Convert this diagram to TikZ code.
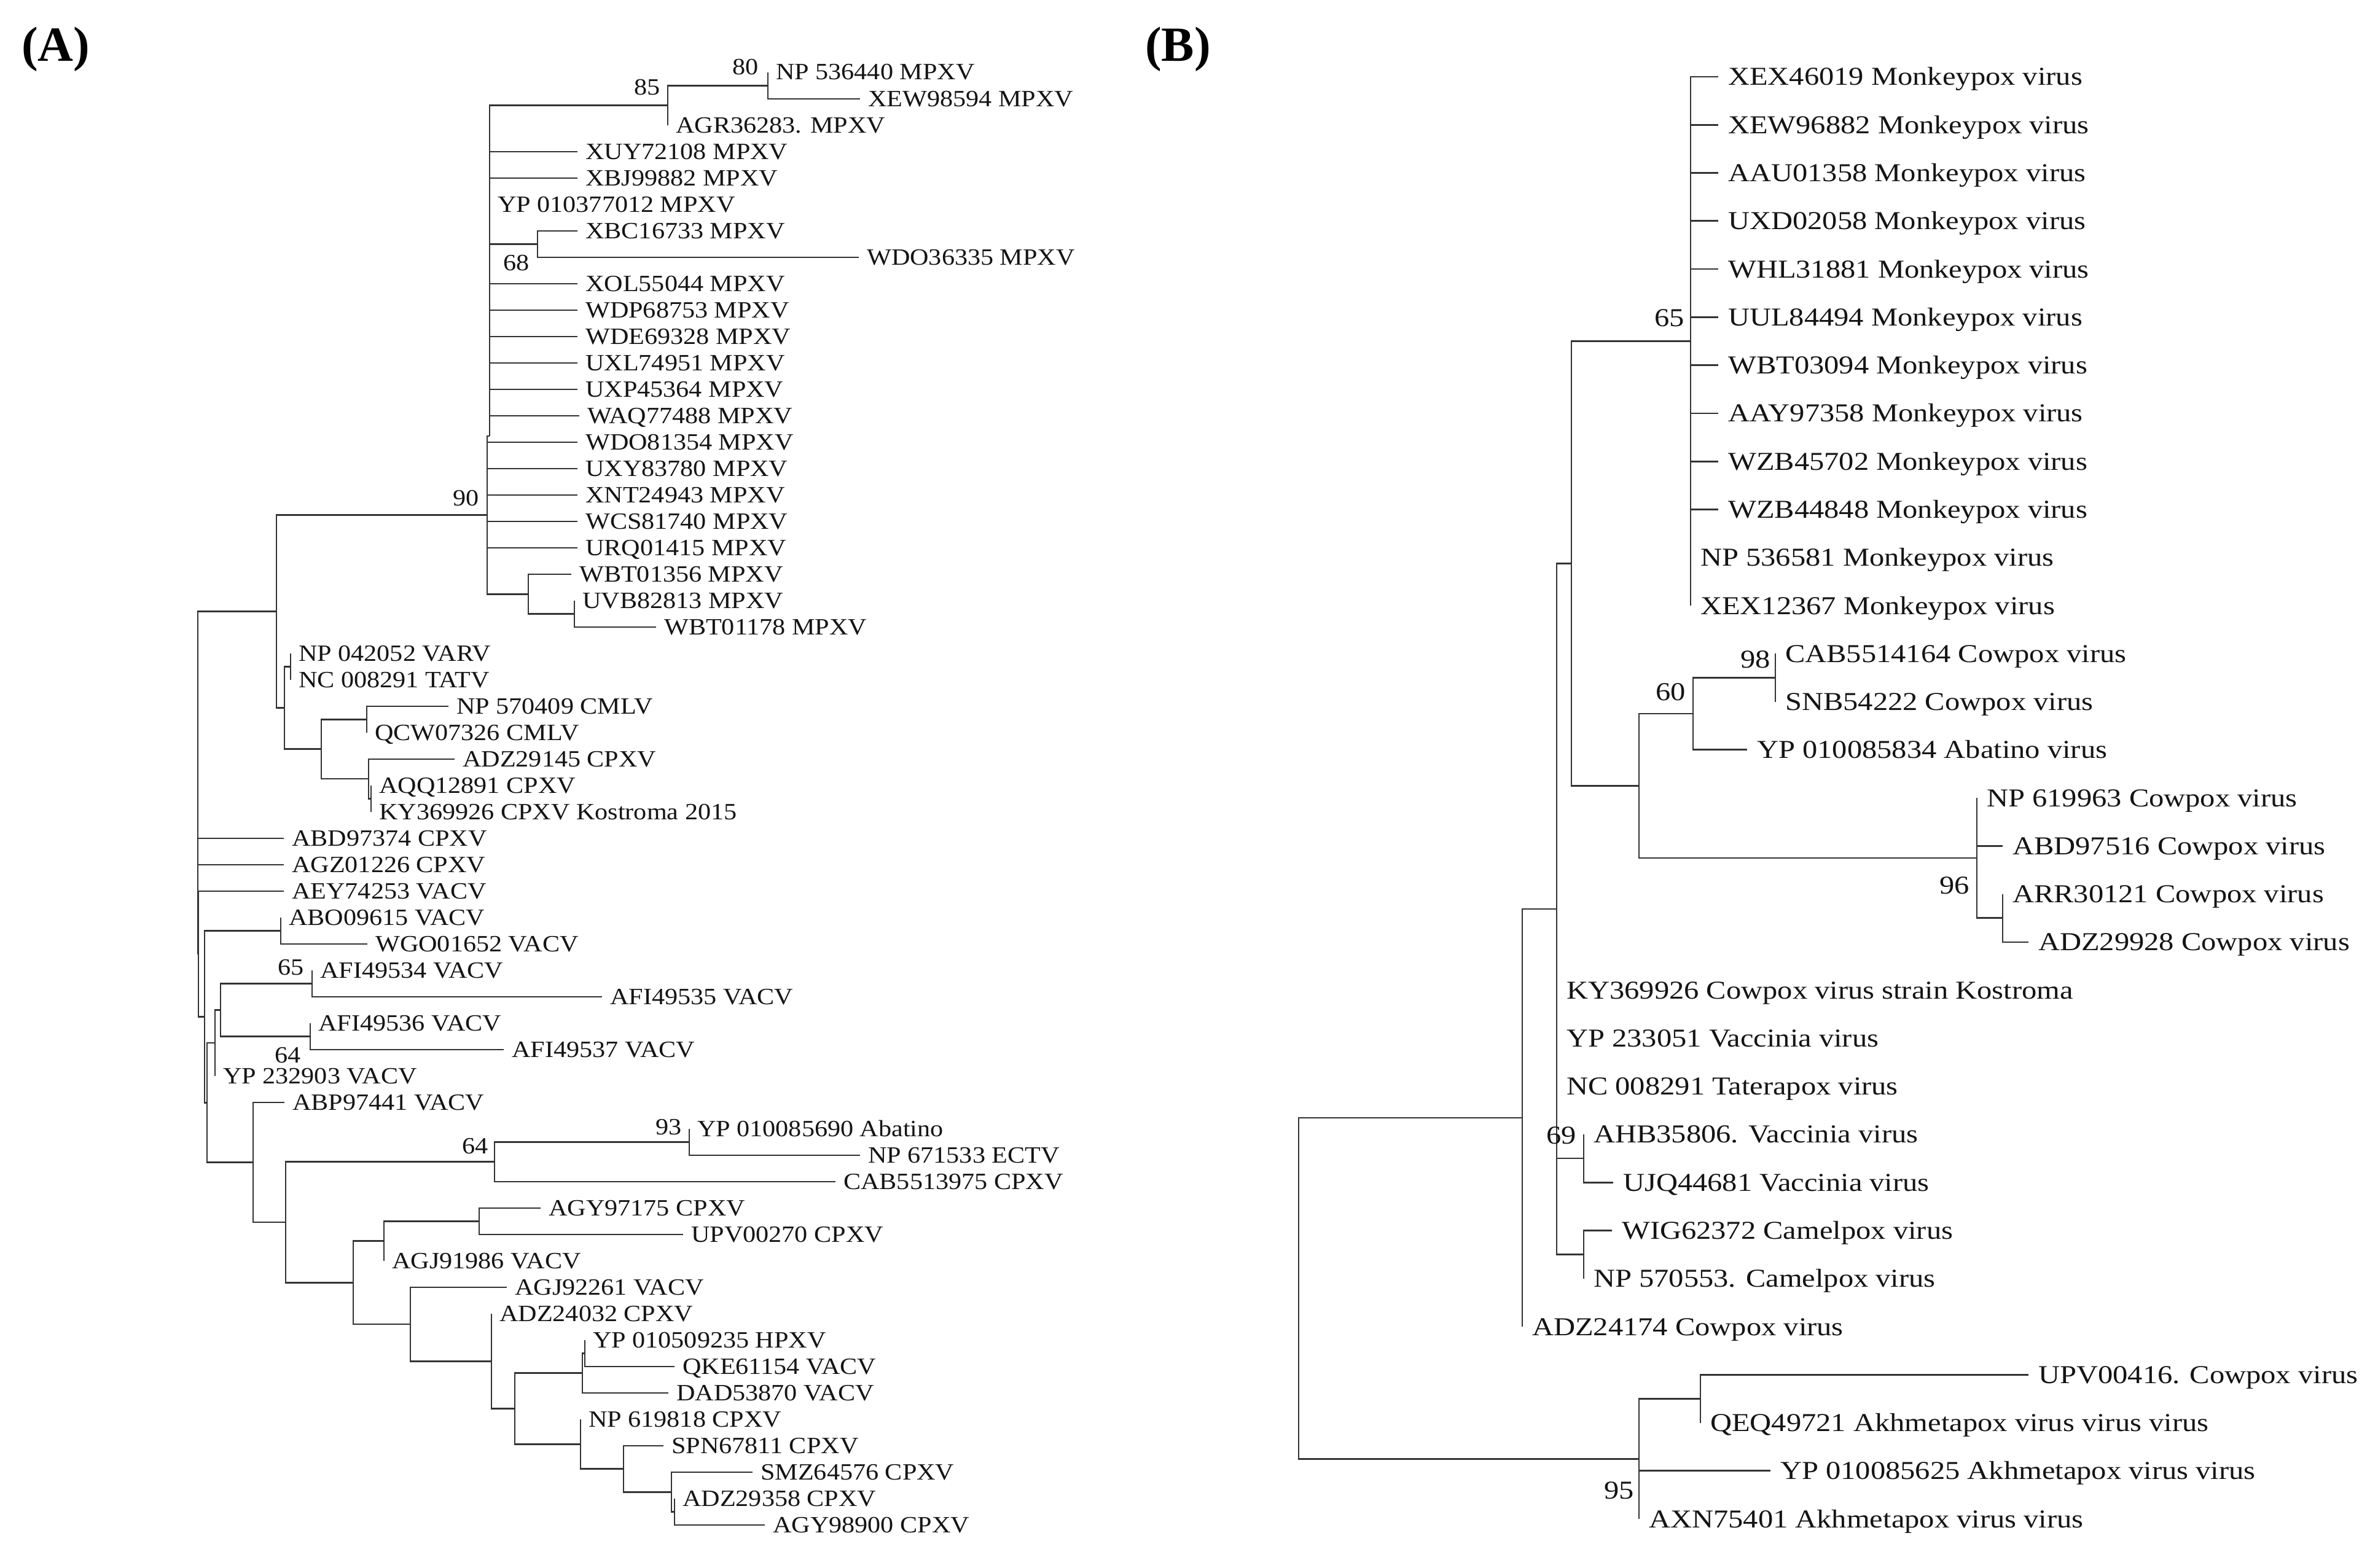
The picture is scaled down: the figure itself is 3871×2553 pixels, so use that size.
\documentclass[tikz,border=0pt]{standalone}
\usepackage{fontspec}
\setmainfont{Liberation Serif}
\newfontfamily\fa[FakeStretch=1.11]{Liberation Serif}
\newfontfamily\fb[FakeStretch=1.155]{Liberation Serif}
\begin{document}
\begin{tikzpicture}[x=1pt,y=-1pt,
  br/.style={draw=black!80,line width=2.7pt,line join=miter},
  labA/.style={anchor=base west,inner sep=0pt,text=black!92,font=\fa\fontsize{38}{40}\selectfont},
  labB/.style={anchor=base west,inner sep=0pt,text=black!92,font=\fb\fontsize{42}{44}\selectfont},
  bsA/.style={anchor=base east,inner sep=0pt,text=black!92,font=\fa\fontsize{38}{40}\selectfont},
  bsB/.style={anchor=base east,inner sep=0pt,text=black!92,font=\fb\fontsize{42}{44}\selectfont},
  panel/.style={anchor=base west,inner sep=0pt,font=\bfseries\fontsize{80}{84}\selectfont}]
\fill[white] (0,0) rectangle (3871,2553);
\useasboundingbox (0,0) rectangle (3871,2553);

\node[panel] (pA) at (35,100) {(A)};
\node[panel] (pB) at (1864,100) {(B)};

% ---------------- Panel A : internal nodes
\coordinate (n80) at (1250,139.5);
\coordinate (n85) at (1087,171.75);
\coordinate (n68) at (875,397.5);
\coordinate (nMPa) at (797,710);
\coordinate (nWBT) at (860,967.25);
\coordinate (nUV) at (935,999.5);
\coordinate (n90) at (793,838.5);
\coordinate (nP) at (450,995.5);
\coordinate (nVT) at (473,1085.5);
\coordinate (nCM) at (597,1171.5);
\coordinate (nAK) at (604,1300.5);
\coordinate (nCP) at (600,1268);
\coordinate (nR) at (523,1219.75);
\coordinate (nQ) at (463,1152.6);
\coordinate (rootA) at (322,1275);
\coordinate (nX) at (323,1553);
\coordinate (n333) at (333,1655.4);
\coordinate (nAW) at (457,1515.5);
\coordinate (n337) at (337,1795.3);
\coordinate (n350) at (350,1698);
\coordinate (n359) at (359,1644.5);
\coordinate (n65) at (508,1601.5);
\coordinate (n64a) at (505,1687.5);
\coordinate (n412) at (412,1892.5);
\coordinate (n465) at (465,1990);
\coordinate (n64b) at (805,1891.75);
\coordinate (n93) at (1122,1859.5);
\coordinate (n575) at (575,2088.4);
\coordinate (n625) at (625,2020.75);
\coordinate (n780) at (780,1988.5);
\coordinate (n668) at (668,2156.1);
\coordinate (n800) at (800,2216.3);
\coordinate (n838) at (838,2293.5);
\coordinate (n948) at (948,2235.75);
\coordinate (n952) at (952,2203.5);
\coordinate (n945) at (945,2351.3);
\coordinate (n1015) at (1015,2391.6);
\coordinate (n1093) at (1093,2429.25);
\coordinate (n1098) at (1098,2461.5);

% ---------------- Panel A : leaves
\foreach \n/\x/\y/\t in {
 a0/1250/118/NP 536440 MPXV, a1/1400/161/XEW98594 MPXV, a2/1087/204/AGR36283. MPXV,
 a3/940/247/XUY72108 MPXV, a4/940/290/XBJ99882 MPXV, a5/797/333/YP 010377012 MPXV,
 a6/940/376/XBC16733 MPXV, a7/1398/419/WDO36335 MPXV, a8/940/462/XOL55044 MPXV,
 a9/940/505/WDP68753 MPXV, a10/940/548/WDE69328 MPXV, a11/940/591/UXL74951 MPXV,
 a12/940/634/UXP45364 MPXV, a13/943/677/WAQ77488 MPXV, a14/940/720/WDO81354 MPXV,
 a15/940/763/UXY83780 MPXV, a16/940/806/XNT24943 MPXV, a17/940/849/WCS81740 MPXV,
 a18/940/892/URQ01415 MPXV, a19/930/935/WBT01356 MPXV, a20/935/978/UVB82813 MPXV,
 a21/1068/1021/WBT01178 MPXV, a22/473/1064/NP 042052 VARV, a23/473/1107/NC 008291 TATV,
 a24/730/1150/NP 570409 CMLV, a25/597/1193/QCW07326 CMLV, a26/740/1236/ADZ29145 CPXV,
 a27/604/1279/AQQ12891 CPXV, a28/604/1322/KY369926 CPXV Kostroma 2015,
 a29/462/1365/ABD97374 CPXV, a30/462/1408/AGZ01226 CPXV, a31/462/1451/AEY74253 VACV,
 a32/457/1494/ABO09615 VACV, a33/598/1537/WGO01652 VACV, a34/508/1580/AFI49534 VACV,
 a35/980/1623/AFI49535 VACV, a36/505/1666/AFI49536 VACV, a37/820/1709/AFI49537 VACV,
 a38/350/1752/YP 232903 VACV, a39/463/1795/ABP97441 VACV, a40/1122/1838/YP 010085690 Abatino,
 a41/1400/1881/NP 671533 ECTV, a42/1360/1924/CAB5513975 CPXV, a43/880/1967/AGY97175 CPXV,
 a44/1112/2010/UPV00270 CPXV, a45/625/2053/AGJ91986 VACV, a46/825/2096/AGJ92261 VACV,
 a47/800/2139/ADZ24032 CPXV, a48/952/2182/YP 010509235 HPXV, a49/1098/2225/QKE61154 VACV,
 a50/1088/2268/DAD53870 VACV, a51/945/2311/NP 619818 CPXV, a52/1080/2354/SPN67811 CPXV,
 a53/1225/2397/SMZ64576 CPXV, a54/1098/2440/ADZ29358 CPXV, a55/1245/2483/AGY98900 CPXV}
 {\coordinate (\n) at (\x,\y);
  \node[labA] (t\n) at ([xshift=13pt,yshift=-12pt]\n) {\t};}

% ---------------- Panel A : branches
\foreach \p/\c in {n80/a0,n80/a1,n85/n80,n85/a2,n68/a6,n68/a7,
 nMPa/n85,nMPa/a3,nMPa/a4,nMPa/a5,nMPa/n68,nMPa/a8,nMPa/a9,nMPa/a10,nMPa/a11,nMPa/a12,nMPa/a13,
 n90/nMPa,n90/a14,n90/a15,n90/a16,n90/a17,n90/a18,n90/nWBT,
 nWBT/a19,nWBT/nUV,nUV/a20,nUV/a21,
 nP/n90,nP/nQ,nQ/nVT,nQ/nR,nVT/a22,nVT/a23,nR/nCM,nR/nCP,nCM/a24,nCM/a25,
 nCP/a26,nCP/nAK,nAK/a27,nAK/a28,
 rootA/nP,rootA/a29,rootA/a30,rootA/nX,nX/a31,nX/n333,
 n333/nAW,n333/n337,nAW/a32,nAW/a33,n337/n350,n337/n412,n350/n359,n350/a38,
 n359/n65,n359/n64a,n65/a34,n65/a35,n64a/a36,n64a/a37,
 n412/a39,n412/n465,n465/n64b,n465/n575,n64b/n93,n64b/a42,n93/a40,n93/a41,
 n575/n625,n575/n668,n625/n780,n625/a45,n780/a43,n780/a44,
 n668/a46,n668/n800,n800/a47,n800/n838,n838/n948,n838/n945,
 n948/n952,n948/a50,n952/a48,n952/a49,n945/a51,n945/n1015,
 n1015/a52,n1015/n1093,n1093/a53,n1093/n1098,n1098/a54,n1098/a55}
 {\draw[br] (\p) |- (\c);}

% ---------------- Panel A : bootstrap values
\node[bsA] (bsA85) at (1075,155) {85};
\node[bsA] (bsA80) at (1235,122) {80};
\node[bsA] (bsA68) at (862,440) {68};
\node[bsA] (bsA90) at (780,823) {90};
\node[bsA] (bsA65) at (495,1587) {65};
\node[bsA] (bsA64a) at (490,1730) {64};
\node[bsA] (bsA93) at (1110,1847) {93};
\node[bsA] (bsA64b) at (795,1878) {64};

% ---------------- Panel B : internal nodes
\coordinate (nM) at (2752,555.5);
\coordinate (n98) at (2890,1103.4);
\coordinate (n60) at (2756,1162.1);
\coordinate (nAR) at (3260,1494.8);
\coordinate (n96) at (3218,1397);
\coordinate (n2668) at (2668,1279.6);
\coordinate (n2558) at (2558,917.6);
\coordinate (n69) at (2578,1886);
\coordinate (nCa) at (2578,2042.7);
\coordinate (n2534) at (2534,1480.1);
\coordinate (n2478) at (2478,1820);
\coordinate (nUQ) at (2768,2277.5);
\coordinate (n95) at (2668,2375.3);
\coordinate (rootB) at (2114,2097.7);

% ---------------- Panel B : leaves
\foreach \n/\x/\y/\t in {
 b0/2797/125/XEX46019 Monkeypox virus, b1/2797/203.3/XEW96882 Monkeypox virus,
 b2/2797/281.5/AAU01358 Monkeypox virus, b3/2797/359.8/UXD02058 Monkeypox virus,
 b4/2797/438.1/WHL31881 Monkeypox virus, b5/2797/516.4/UUL84494 Monkeypox virus,
 b6/2797/594.6/WBT03094 Monkeypox virus, b7/2797/672.9/AAY97358 Monkeypox virus,
 b8/2797/751.2/WZB45702 Monkeypox virus, b9/2797/829.4/WZB44848 Monkeypox virus,
 b10/2752/907.7/NP 536581 Monkeypox virus, b11/2752/986/XEX12367 Monkeypox virus,
 b12/2890/1064.2/CAB5514164 Cowpox virus, b13/2890/1142.5/SNB54222 Cowpox virus,
 b14/2844/1220.8/YP 010085834 Abatino virus, b15/3218/1299.1/NP 619963 Cowpox virus,
 b16/3260/1377.3/ABD97516 Cowpox virus, b17/3260/1455.6/ARR30121 Cowpox virus,
 b18/3302/1533.9/ADZ29928 Cowpox virus, b19/2534/1612.1/KY369926 Cowpox virus strain Kostroma,
 b20/2534/1690.4/YP 233051 Vaccinia virus, b21/2534/1768.7/NC 008291 Taterapox virus,
 b22/2578/1846.9/AHB35806. Vaccinia virus, b23/2626/1925.2/UJQ44681 Vaccinia virus,
 b24/2624/2003.5/WIG62372 Camelpox virus, b25/2578/2081.8/NP 570553. Camelpox virus,
 b26/2478/2160/ADZ24174 Cowpox virus, b27/3302/2238.3/UPV00416. Cowpox virus,
 b28/2768/2316.6/QEQ49721 Akhmetapox virus virus virus,
 b29/2882/2394.8/YP 010085625 Akhmetapox virus virus,
 b30/2668/2473.1/AXN75401 Akhmetapox virus virus}
 {\coordinate (\n) at (\x,\y);
  \node[labB] (t\n) at ([xshift=16pt,yshift=-14pt]\n) {\t};}

% ---------------- Panel B : branches
\foreach \p/\c in {nM/b0,nM/b1,nM/b2,nM/b3,nM/b4,nM/b5,nM/b6,nM/b7,nM/b8,nM/b9,nM/b10,nM/b11,
 n98/b12,n98/b13,n60/n98,n60/b14,n96/b15,n96/b16,n96/nAR,nAR/b17,nAR/b18,
 n2668/n60,n2668/n96,n2558/nM,n2558/n2668,
 n2534/n2558,n2534/b19,n2534/b20,n2534/b21,n2534/n69,n2534/nCa,
 n69/b22,n69/b23,nCa/b24,nCa/b25,n2478/n2534,n2478/b26,
 nUQ/b27,nUQ/b28,n95/nUQ,n95/b29,n95/b30,rootB/n2478,rootB/n95}
 {\draw[br] (\p) |- (\c);}

% ---------------- Panel B : bootstrap values
\node[bsB] (bsB65) at (2742,531) {65};
\node[bsB] (bsB60) at (2744,1140) {60};
\node[bsB] (bsB98) at (2882,1087) {98};
\node[bsB] (bsB96) at (3206,1455) {96};
\node[bsB] (bsB69) at (2566,1862) {69};
\node[bsB] (bsB95) at (2660,2440) {95};
\end{tikzpicture}
\end{document}
